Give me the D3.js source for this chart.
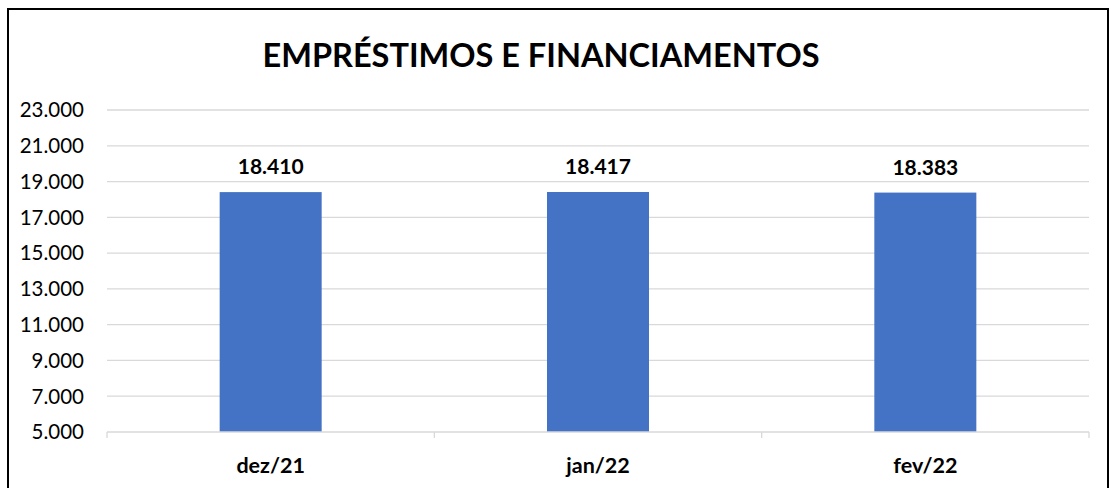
<!DOCTYPE html>
<html>
<head>
<meta charset="utf-8">
<script src="https://cdn.jsdelivr.net/npm/d3@7"></script>
<style>
  body { margin: 0; background: #fff; }
  text { font-family: Lato, "Open Sans", sans-serif; }
</style>
</head>
<body>
<script>
  // chart values
  const categories = ["dez/21", "jan/22", "fev/22"];
  const values = [18410, 18417, 18383];
  const yTicks = [5000, 7000, 9000, 11000, 13000, 15000, 17000, 19000, 21000, 23000];
  const title = "EMPRÉSTIMOS E FINANCIAMENTOS";

  const W = 1111, H = 488;
  const svg = d3.select("body").append("svg").attr("width", W).attr("height", H);

  // outer frame
  svg.append("rect").attr("x", 8).attr("y", 9).attr("width", 1100).attr("height", 490)
    .attr("fill", "#fff").attr("stroke", "#000").attr("stroke-width", 2);

  const fmt = d => d3.format(",")(d).replace(/,/g, ".");

  const x = d3.scaleBand().domain(categories).range([107, 1089]).paddingInner(0).paddingOuter(0);
  const y = d3.scaleLinear().domain([5000, 23000]).range([432, 110]);

  // gridlines
  svg.append("g").selectAll("line").data(yTicks.slice(1)).join("line")
    .attr("x1", 107).attr("x2", 1089)
    .attr("y1", d => y(d)).attr("y2", d => y(d))
    .attr("stroke", "#d9d9d9").attr("stroke-width", 1.3);

  // y axis labels
  svg.append("g").selectAll("text").data(yTicks).join("text")
    .attr("x", 84).attr("y", d => y(d)).attr("dy", "0.36em")
    .attr("text-anchor", "end").attr("font-size", 20.5).attr("fill", "#000")
    .text(fmt);

  // bars
  const bw = 102;
  svg.append("g").selectAll("rect").data(values).join("rect")
    .attr("x", (d, i) => x(categories[i]) + x.bandwidth() / 2 - bw / 2)
    .attr("width", bw)
    .attr("y", d => y(d))
    .attr("height", d => y(5000) - y(d))
    .attr("fill", "#4472c4");

  // baseline + category ticks
  const xAxis = svg.append("g");
  xAxis.append("line").attr("x1", 107).attr("x2", 1089).attr("y1", y(5000)).attr("y2", y(5000))
    .attr("stroke", "#d9d9d9").attr("stroke-width", 1.3);
  const edges = categories.map(c => x(c)).concat([x.range()[1]]);
  xAxis.selectAll("line.tk").data(edges).join("line").attr("class", "tk")
    .attr("x1", d => d).attr("x2", d => d)
    .attr("y1", y(5000)).attr("y2", y(5000) + 6)
    .attr("stroke", "#d9d9d9").attr("stroke-width", 1.3);

  // category labels
  svg.append("g").selectAll("text").data(categories).join("text")
    .attr("x", d => x(d) + x.bandwidth() / 2).attr("y", 473)
    .attr("text-anchor", "middle").attr("font-size", 21.5).attr("font-weight", "bold")
    .text(d => d);

  // data labels
  svg.append("g").selectAll("text").data(values).join("text")
    .attr("x", (d, i) => x(categories[i]) + x.bandwidth() / 2)
    .attr("y", d => y(d) - 18)
    .attr("text-anchor", "middle").attr("font-size", 21).attr("font-weight", "bold")
    .text(fmt);

  // title
  svg.append("text").attr("x", 541).attr("y", 67)
    .attr("text-anchor", "middle").attr("font-size", 32.5).attr("font-weight", "bold")
    .text(title);
</script>
</body>
</html>
